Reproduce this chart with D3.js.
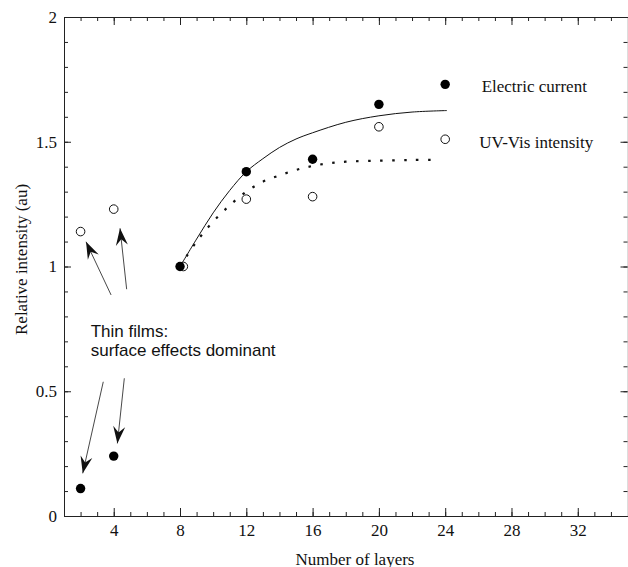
<!DOCTYPE html>
<html>
<head>
<meta charset="utf-8">
<script src="https://cdn.jsdelivr.net/npm/d3@7"></script>
<style>
  body { margin: 0; background: #fff; }
  text { font-family: "Liberation Serif", "Times New Roman", serif; fill: #111; }
  .note { font-family: "Liberation Sans", Arial, sans-serif; }
</style>
</head>
<body>
<div id="svg"></div>
<script>
// measured points
var layers = [2, 4, 8, 12, 16, 20, 24];
var current = [0.11, 0.24, 1.0, 1.38, 1.43, 1.65, 1.73];
var uvLayers = [2, 4, 8.2, 12, 16, 20, 24];
var uvvis = [1.14, 1.23, 1.0, 1.27, 1.28, 1.56, 1.51];

// fitted curves
var fitCurrentX = [8, 9, 10, 11, 12, 13, 14, 15, 16, 18, 20, 22, 24.1];
var fitCurrentY = [1.0, 1.11, 1.215, 1.305, 1.38, 1.432, 1.477, 1.511, 1.536, 1.578, 1.604, 1.619, 1.625];
var fitUvX = [8, 9, 10, 11, 12, 13, 14, 15, 16, 17, 18, 20, 22, 23.7];
var fitUvY = [1.0, 1.10, 1.18, 1.245, 1.30, 1.34, 1.365, 1.387, 1.403, 1.414, 1.42, 1.424, 1.427, 1.428];

var xTicks = [4, 8, 12, 16, 20, 24, 28, 32];
var yTicks = [0, 0.5, 1, 1.5, 2];

var width = 628;
var height = 567;
var plotLeft = 64, plotRight = 627.5, plotTop = 17, plotBottom = 516;

var x = d3.scaleLinear().domain([1, 35]).range([plotLeft, plotRight]);
var y = d3.scaleLinear().domain([0, 2]).range([plotBottom, plotTop]);

var svg = d3.select("#svg").append("svg")
  .attr("width", width)
  .attr("height", height);

svg.append("defs").append("marker")
  .attr("id", "head")
  .attr("markerUnits", "userSpaceOnUse")
  .attr("viewBox", "-18 -7 19 14")
  .attr("refX", 0).attr("refY", 0)
  .attr("markerWidth", 19).attr("markerHeight", 14)
  .attr("orient", "auto")
  .append("path")
  .attr("d", "M0,0L-17,-6L-11,0L-17,6Z")
  .attr("fill", "#111");

var minorX = d3.range(2, 35);
var minorY = d3.range(0, 2.0001, 0.1);

function styleAxis(g) {
  g.select(".domain").attr("stroke", "#222").attr("stroke-width", 1);
  g.selectAll(".tick line").attr("stroke", "#222");
  g.selectAll("text").attr("font-size", "17px").attr("font-family", "Liberation Serif");
}

// bottom
svg.append("g")
  .attr("transform", "translate(0," + plotBottom + ")")
  .call(d3.axisBottom(x).tickValues(minorX).tickSizeInner(-4).tickSizeOuter(0).tickFormat(""))
  .call(styleAxis);
svg.append("g")
  .attr("transform", "translate(0," + plotBottom + ")")
  .call(d3.axisBottom(x).tickValues(xTicks).tickSizeInner(-8).tickSizeOuter(0).tickPadding(8).tickFormat(d3.format("d")))
  .call(styleAxis);

// top
svg.append("g")
  .attr("transform", "translate(0," + plotTop + ")")
  .call(d3.axisTop(x).tickValues(minorX).tickSizeInner(-4).tickSizeOuter(0).tickFormat(""))
  .call(styleAxis);
svg.append("g")
  .attr("transform", "translate(0," + plotTop + ")")
  .call(d3.axisTop(x).tickValues(xTicks).tickSizeInner(-8).tickSizeOuter(0).tickFormat(""))
  .call(styleAxis);

// left
svg.append("g")
  .attr("transform", "translate(" + plotLeft + ",0)")
  .call(d3.axisLeft(y).tickValues(minorY).tickSizeInner(-4).tickSizeOuter(0).tickFormat(""))
  .call(styleAxis);
svg.append("g")
  .attr("transform", "translate(" + plotLeft + ",0)")
  .call(d3.axisLeft(y).tickValues(yTicks).tickSizeInner(-7).tickSizeOuter(0).tickPadding(7).tickFormat(d3.format("")))
  .call(styleAxis);

// right
svg.append("g")
  .attr("transform", "translate(" + plotRight + ",0)")
  .call(d3.axisRight(y).tickValues(minorY).tickSizeInner(-4).tickSizeOuter(0).tickFormat(""))
  .call(styleAxis)
  .select(".domain").attr("stroke", "#bbb");
svg.append("g")
  .attr("transform", "translate(" + plotRight + ",0)")
  .call(d3.axisRight(y).tickValues(yTicks).tickSizeInner(-7).tickSizeOuter(0).tickFormat(""))
  .call(styleAxis)
  .select(".domain").attr("stroke", "none");

// axis titles
svg.append("text")
  .attr("x", 355).attr("y", 565)
  .attr("text-anchor", "middle")
  .attr("font-size", "17px")
  .text("Number of layers");

svg.append("text")
  .attr("transform", "translate(27,335) rotate(-90)")
  .attr("text-anchor", "start")
  .attr("font-size", "17px")
  .text("Relative intensity (au)");

// fitted curves
var line = d3.line()
  .x(function(d) { return x(d[0]); })
  .y(function(d) { return y(d[1]); })
  .curve(d3.curveCatmullRom.alpha(0.5));

svg.append("path")
  .datum(d3.zip(fitCurrentX, fitCurrentY))
  .attr("d", line)
  .attr("fill", "none")
  .attr("stroke", "#111")
  .attr("stroke-width", 1);

svg.append("path")
  .datum(d3.zip(fitUvX, fitUvY))
  .attr("d", line)
  .attr("fill", "none")
  .attr("stroke", "#111")
  .attr("stroke-width", 2.2)
  .attr("stroke-dasharray", "2.5 9.5");

// points
svg.selectAll(".uv")
  .data(d3.zip(uvLayers, uvvis))
  .enter().append("circle")
  .attr("class", "uv")
  .attr("cx", function(d) { return x(d[0]); })
  .attr("cy", function(d) { return y(d[1]); })
  .attr("r", 4.3)
  .attr("fill", "#fff")
  .attr("stroke", "#111")
  .attr("stroke-width", 1);

svg.selectAll(".cur")
  .data(d3.zip(layers, current))
  .enter().append("circle")
  .attr("class", "cur")
  .attr("cx", function(d) { return x(d[0]); })
  .attr("cy", function(d) { return y(d[1]); })
  .attr("r", 4.7)
  .attr("fill", "#000");

// series labels
svg.append("text")
  .attr("x", x(26.2)).attr("y", y(1.70))
  .attr("font-size", "17px")
  .text("Electric current");
svg.append("text")
  .attr("x", x(26.05)).attr("y", y(1.474))
  .attr("font-size", "17px")
  .text("UV-Vis intensity");

// annotation
var arrows = [
  [[3.84, 0.886], [2.33, 1.099]],
  [[4.78, 0.909], [4.38, 1.153]],
  [[3.37, 0.538], [2.13, 0.171]],
  [[4.64, 0.552], [4.22, 0.291]]
];

svg.selectAll(".arrow")
  .data(arrows)
  .enter().append("line")
  .attr("class", "arrow")
  .attr("x1", function(d) { return x(d[0][0]); })
  .attr("y1", function(d) { return y(d[0][1]); })
  .attr("x2", function(d) { return x(d[1][0]); })
  .attr("y2", function(d) { return y(d[1][1]); })
  .attr("stroke", "#333")
  .attr("stroke-width", 0.9)
  .attr("marker-end", "url(#head)");

var note = svg.append("text")
  .attr("class", "note")
  .attr("font-size", "17px");
note.append("tspan").attr("x", x(2.61)).attr("y", y(0.717)).text("Thin films:");
note.append("tspan").attr("x", x(2.61)).attr("y", y(0.641)).text("surface effects dominant");
</script>
</body>
</html>
